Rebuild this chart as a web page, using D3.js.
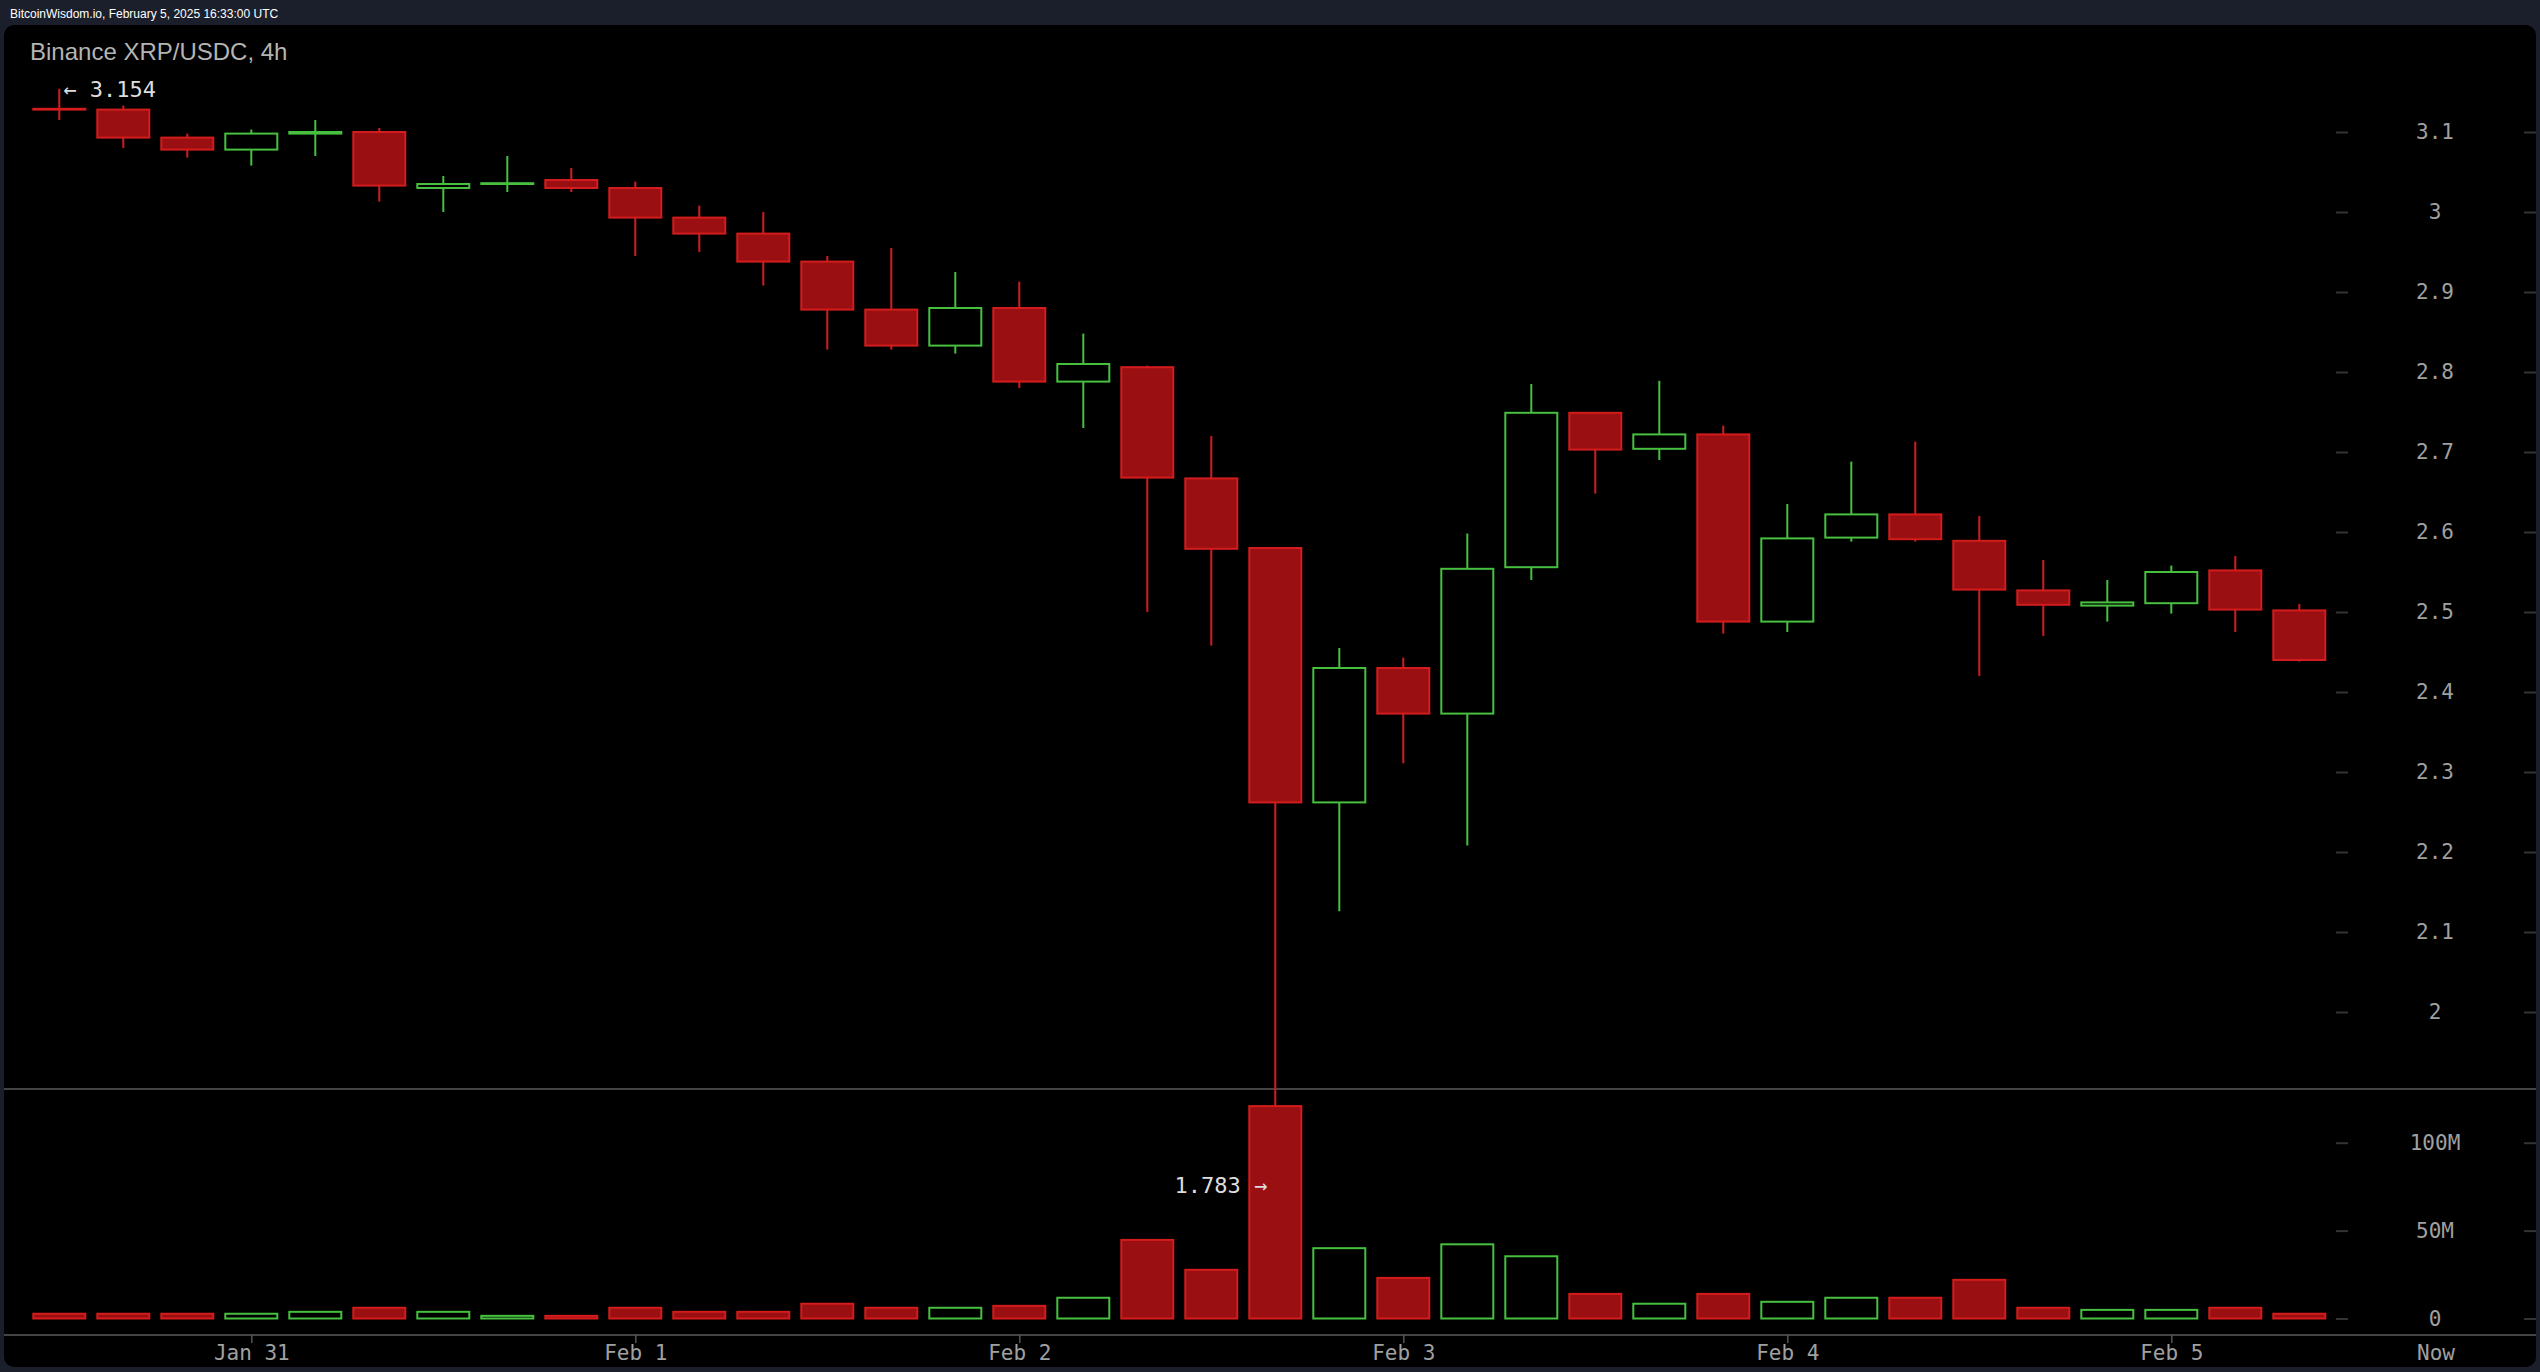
<!DOCTYPE html>
<html>
<head>
<meta charset="utf-8">
<script src="https://cdn.jsdelivr.net/npm/d3@7"></script>
<style>
  html, body { margin: 0; padding: 0; background: #1b1f2b; }
  svg { display: block; }
</style>
</head>
<body>
<div id="chart"></div>
<script>
// XRP/USDC 4h candles, Jan 30 12:00 UTC onwards
var startTime = Date.UTC(2025, 0, 30, 12);
var opens  = [3.129,3.128,3.093,3.078,3.098,3.100,3.030,3.035,3.040,3.030,2.993,2.973,2.938,2.878,2.833,2.880,2.788,2.806,2.667,2.580,2.262,2.430,2.373,2.556,2.749,2.704,2.722,2.488,2.593,2.622,2.589,2.527,2.508,2.511,2.552,2.502];
var highs  = [3.154,3.133,3.098,3.103,3.115,3.105,3.045,3.070,3.055,3.038,3.008,3.000,2.945,2.955,2.925,2.913,2.848,2.808,2.720,2.581,2.455,2.443,2.598,2.785,2.750,2.789,2.733,2.635,2.688,2.713,2.620,2.565,2.540,2.558,2.570,2.510];
var lows   = [3.115,3.080,3.068,3.058,3.070,3.013,3.000,3.025,3.025,2.945,2.950,2.908,2.828,2.828,2.823,2.780,2.730,2.500,2.458,1.783,2.126,2.311,2.208,2.540,2.648,2.690,2.473,2.475,2.588,2.588,2.420,2.470,2.488,2.498,2.475,2.438];
var closes = [3.128,3.093,3.078,3.098,3.100,3.033,3.035,3.036,3.030,2.993,2.973,2.938,2.878,2.833,2.880,2.788,2.810,2.668,2.579,2.262,2.430,2.373,2.554,2.749,2.703,2.722,2.488,2.592,2.622,2.591,2.528,2.509,2.512,2.550,2.503,2.440];
var volumesM = [2.7,2.7,2.7,2.7,3.8,6.1,3.8,1.5,1.5,6.1,3.8,3.8,8.4,6.1,6.1,7.2,11.8,44.7,27.7,120.8,40,23.1,42.2,35.4,14,8.4,14,9.5,11.8,11.8,22,6.1,4.9,4.9,6.1,2.7];

var priceTicks = [2, 2.1, 2.2, 2.3, 2.4, 2.5, 2.6, 2.7, 2.8, 2.9, 3, 3.1];
var volumeTicks = [0, 50e6, 100e6];
var volumeLabels = ["0", "50M", "100M"];
var dayTicks = ["2025-01-31", "2025-02-01", "2025-02-02", "2025-02-03", "2025-02-04", "2025-02-05"];
var headerText = "BitcoinWisdom.io, February 5, 2025 16:33:00 UTC";
var titleText = "Binance XRP/USDC, 4h";

var width = 2540, height = 1372;
var red = "#d41c1c", redFill = "#9a0f12", green = "#46c03e";
var mono = "'DejaVu Sans Mono', monospace", sans = "'Liberation Sans', Arial, sans-serif";

var candles = opens.map(function(o, i) {
  return {
    t: new Date(startTime + i * 4 * 3600 * 1000),
    o: o, h: highs[i], l: lows[i], c: closes[i],
    v: volumesM[i] * 1e6,
    up: closes[i] >= o
  };
});

var x = d3.scaleUtc()
    .domain([new Date(Date.UTC(2025, 0, 31)), new Date(Date.UTC(2025, 1, 1))])
    .range([251.3, 635.3]);

var y = d3.scaleLinear().domain([2.0, 3.1]).range([1012, 132]);
var yv = d3.scaleLinear().domain([0, 100e6]).range([1318.5, 1142.7]);

var bodyW = 52;

var svg = d3.select("#chart").append("svg")
    .attr("width", width)
    .attr("height", height);

// header strip + black panel
svg.append("text")
    .attr("x", 10).attr("y", 18)
    .attr("font-family", sans).attr("font-size", 12)
    .attr("fill", "#ffffff")
    .text(headerText);

svg.append("rect")
    .attr("x", 4).attr("y", 25)
    .attr("width", 2532).attr("height", 1342)
    .attr("rx", 10)
    .attr("fill", "#000");

svg.append("text")
    .attr("x", 30).attr("y", 60)
    .attr("font-family", sans).attr("font-size", 24)
    .attr("fill", "#b4b4b4")
    .text(titleText);

// separators
[1089, 1335].forEach(function(ly) {
  svg.append("line")
      .attr("x1", 4).attr("x2", 2536)
      .attr("y1", ly).attr("y2", ly)
      .attr("stroke", "#444").attr("stroke-width", 2);
});

// right axes
function rightAxis(scale, values, fmt) {
  var g = svg.append("g").attr("transform", "translate(2336,0)");
  g.call(d3.axisRight(scale).tickValues(values).tickSize(12).tickFormat(fmt));
  g.select(".domain").remove();
  g.selectAll(".tick line").attr("stroke", "#333").attr("stroke-width", 2);
  g.selectAll(".tick text")
      .attr("x", 99).attr("text-anchor", "middle")
      .attr("font-family", mono).attr("font-size", 21)
      .attr("fill", "#a0a0a0");
  // second tick mark at the panel edge
  g.selectAll(".tick").append("line")
      .attr("x1", 188).attr("x2", 200)
      .attr("stroke", "#333").attr("stroke-width", 2);
}
rightAxis(y, priceTicks, function(d) { return String(+d.toFixed(1)); });
rightAxis(yv, volumeTicks, function(d, i) { return volumeLabels[i]; });

// time axis
var xg = svg.append("g").attr("transform", "translate(0,1335)");
xg.call(d3.axisBottom(x)
    .tickValues(dayTicks.map(function(s) { return new Date(s + "T00:00:00Z"); }))
    .tickSize(8)
    .tickFormat(d3.utcFormat("%b %-d")));
xg.select(".domain").remove();
xg.selectAll(".tick line").attr("stroke", "#555").attr("stroke-width", 1.5);
xg.selectAll(".tick text")
    .attr("y", 25).attr("dy", 0)
    .attr("font-family", mono).attr("font-size", 21)
    .attr("fill", "#a0a0a0");

svg.append("text")
    .attr("x", 2436).attr("y", 1360)
    .attr("text-anchor", "middle")
    .attr("font-family", mono).attr("font-size", 21)
    .attr("fill", "#a0a0a0")
    .text("Now");

// candles
var cg = svg.append("g").selectAll("g")
    .data(candles)
    .enter()
    .append("g");

cg.append("line")
    .attr("x1", function(d) { return x(d.t); })
    .attr("x2", function(d) { return x(d.t); })
    .attr("y1", function(d) { return y(d.h); })
    .attr("y2", function(d) { return y(d.l); })
    .attr("stroke", function(d) { return d.up ? green : red; })
    .attr("stroke-width", 2);

cg.append("rect")
    .attr("x", function(d) { return x(d.t) - bodyW / 2; })
    .attr("width", bodyW)
    .attr("y", function(d) { return y(Math.max(d.o, d.c)); })
    .attr("height", function(d) { return Math.max(0.5, Math.abs(y(d.o) - y(d.c))); })
    .attr("fill", function(d) { return d.up ? "#000" : redFill; })
    .attr("stroke", function(d) { return d.up ? green : red; })
    .attr("stroke-width", 2);

// volume bars (drawn over the long wick)
svg.append("g").selectAll("rect")
    .data(candles)
    .enter()
    .append("rect")
    .attr("x", function(d) { return x(d.t) - bodyW / 2; })
    .attr("width", bodyW)
    .attr("y", function(d) { return yv(d.v); })
    .attr("height", function(d) { return Math.max(1, yv(0) - yv(d.v)); })
    .attr("fill", function(d) { return d.up ? "#000" : redFill; })
    .attr("stroke", function(d) { return d.up ? green : red; })
    .attr("stroke-width", 2);

// high / low markers
var hi = d3.maxIndex(candles, function(d) { return d.h; });
var lo = d3.minIndex(candles, function(d) { return d.l; });

svg.append("text")
    .attr("x", x(candles[hi].t) + 4)
    .attr("y", y(candles[hi].h))
    .attr("dy", "0.35em")
    .attr("font-family", mono).attr("font-size", 22)
    .attr("fill", "#ddd")
    .text("\u2190 " + candles[hi].h.toFixed(3));

svg.append("text")
    .attr("x", x(candles[lo].t) - 8)
    .attr("y", y(candles[lo].l))
    .attr("dy", "0.35em")
    .attr("text-anchor", "end")
    .attr("font-family", mono).attr("font-size", 22)
    .attr("fill", "#ddd")
    .text(candles[lo].l.toFixed(3) + " \u2192");
</script>
</body>
</html>
